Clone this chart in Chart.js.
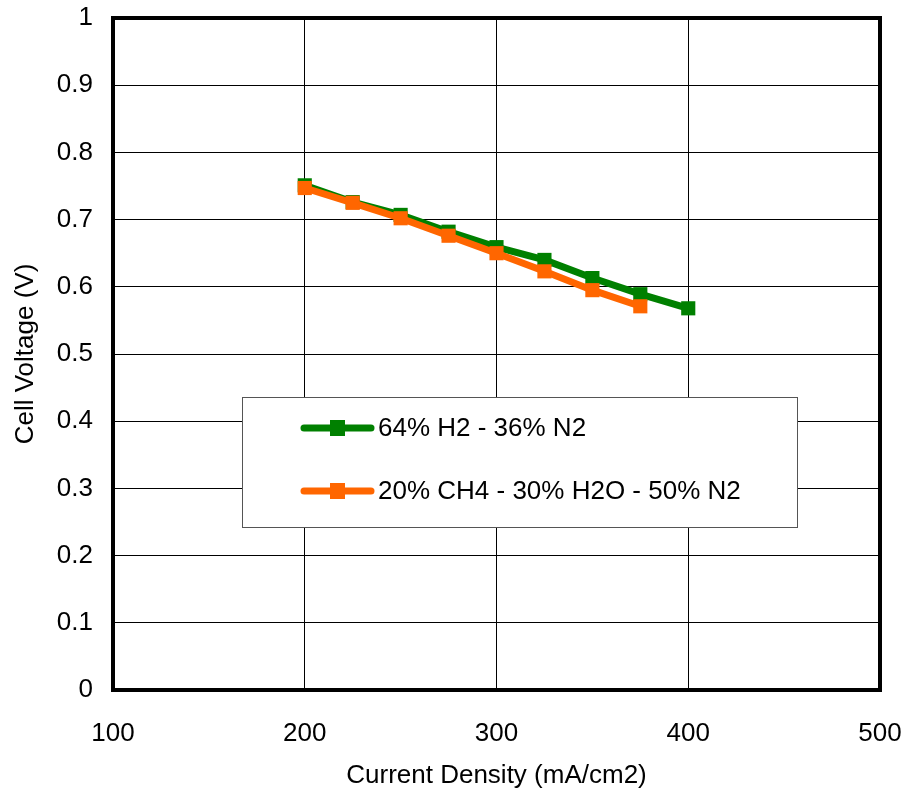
<!DOCTYPE html>
<html>
<head>
<meta charset="utf-8">
<script src="https://cdn.jsdelivr.net/npm/chart.js@4"></script>
<style>
  body { margin: 0; background: #FFFFFF; }
  #cell_chart { display: block; }
</style>
</head>
<body>
<canvas id="cell_chart" width="901" height="791"></canvas>
<script>
// Current density (mA/cm2) for each measured point
const current_h2 = [200, 225, 250, 275, 300, 325, 350, 375, 400];
const current_ch4 = [200, 225, 250, 275, 300, 325, 350, 375];

// Cell voltage (V)
const voltage_h2 = [0.751, 0.726, 0.707, 0.682, 0.659, 0.640, 0.613, 0.589, 0.568];
const voltage_ch4 = [0.747, 0.725, 0.702, 0.676, 0.650, 0.623, 0.595, 0.571];

const series_labels = ["64% H2 - 36% N2", "20% CH4 - 30% H2O - 50% N2"];
const series_colors = ["#008000", "#FF6600"];

const font_family = "Arial, 'Liberation Sans', sans-serif";

function toPoints(xs, ys) {
  return xs.map((x, i) => ({ x: x, y: ys[i] }));
}

// Heavy black frame round the plot area
const framePlugin = {
  id: 'frame',
  beforeDatasetsDraw(chart) {
    const a = chart.chartArea;
    const ctx = chart.ctx;
    ctx.save();
    ctx.strokeStyle = "#000000";
    ctx.lineWidth = 4;
    ctx.strokeRect(a.left, a.top, a.right - a.left, a.bottom - a.top);
    ctx.restore();
  }
};

// Legend box sitting inside the plot area
const boxLegendPlugin = {
  id: 'boxLegend',
  afterDatasetsDraw(chart) {
    const ctx = chart.ctx;
    const box = { left: 242, top: 397, right: 797, bottom: 527 };
    ctx.save();
    ctx.fillStyle = "#FFFFFF";
    ctx.fillRect(box.left, box.top, box.right - box.left, box.bottom - box.top);
    ctx.strokeStyle = "#555555";
    ctx.lineWidth = 1;
    ctx.strokeRect(box.left + 0.5, box.top + 0.5, box.right - box.left, box.bottom - box.top);

    const rows = [428, 491];
    chart.data.datasets.forEach(function (ds, i) {
      const y = rows[i];
      ctx.strokeStyle = ds.borderColor;
      ctx.lineWidth = 7;
      ctx.lineCap = 'round';
      ctx.beginPath();
      ctx.moveTo(304, y);
      ctx.lineTo(371, y);
      ctx.stroke();
      ctx.fillStyle = ds.borderColor;
      ctx.fillRect(330, y - 8, 15, 16);
      ctx.fillStyle = "#000000";
      ctx.font = "26px " + font_family;
      ctx.textBaseline = 'middle';
      ctx.textAlign = 'left';
      ctx.fillText(ds.label, 378, y + 1);
    });
    ctx.restore();
  }
};

function contentLoaded() {
  new Chart(
    document.getElementById('cell_chart'),
    {
      type: 'line',
      data: {
        datasets: [{
          label: series_labels[0],
          data: toPoints(current_h2, voltage_h2),
          borderColor: series_colors[0],
          backgroundColor: series_colors[0],
          borderWidth: 7,
          pointStyle: 'rect',
          pointRadius: 10,
          pointBorderWidth: 0,
          tension: 0,
          order: 1
        }, {
          label: series_labels[1],
          data: toPoints(current_ch4, voltage_ch4),
          borderColor: series_colors[1],
          backgroundColor: series_colors[1],
          borderWidth: 7,
          pointStyle: 'rect',
          pointRadius: 10,
          pointBorderWidth: 0,
          tension: 0,
          order: 0 // orange sits on top of green
        }]
      },
      options: {
        responsive: false,
        animation: false,
        events: [],
        layout: { padding: { top: 18, right: 21, left: 0, bottom: 0 } },
        scales: {
          x: {
            type: 'linear',
            min: 100,
            max: 500,
            afterFit: function (s) {
              s.height = 101;
              s.paddingLeft = 0;
              s.paddingRight = 0;
            },
            ticks: {
              stepSize: 100,
              color: "#000000",
              padding: 28,
              font: { family: font_family, size: 26 }
            },
            grid: { color: "#000000", lineWidth: 1, drawTicks: false },
            border: { display: false },
            title: {
              display: true,
              text: "Current Density (mA/cm2)",
              color: "#000000",
              padding: { top: 6, bottom: 0 },
              font: { family: font_family, size: 26 }
            }
          },
          y: {
            min: 0,
            max: 1,
            afterFit: function (s) {
              s.width = 113;
              s.paddingTop = 0;
              s.paddingBottom = 0;
            },
            ticks: {
              stepSize: 0.1,
              color: "#000000",
              padding: 20,
              font: { family: font_family, size: 26 },
              callback: function (v) { return String(Number(v.toFixed(1))); }
            },
            grid: { color: "#000000", lineWidth: 1, drawTicks: false },
            border: { display: false },
            title: {
              display: true,
              text: "Cell Voltage (V)",
              color: "#000000",
              padding: { top: 10, bottom: 0 },
              font: { family: font_family, size: 26 }
            }
          }
        },
        plugins: {
          legend: { display: false },
          tooltip: { enabled: false }
        }
      },
      plugins: [framePlugin, boxLegendPlugin]
    });
}

document.addEventListener('DOMContentLoaded', contentLoaded, false);
</script>
</body>
</html>
